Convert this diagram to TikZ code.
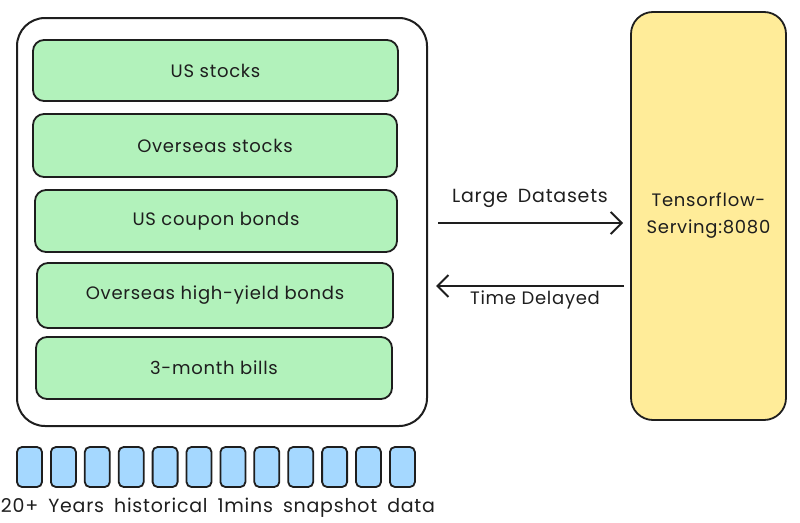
\documentclass[tikz,border=0pt]{standalone}
\usepackage{fontspec}
\setmainfont{Poppins}[LetterSpace=4]
\usetikzlibrary{arrows.meta}
\definecolor{strk}{HTML}{1E1E1E}
\definecolor{gfill}{HTML}{B2F2BB}
\definecolor{yfill}{HTML}{FFEC99}
\definecolor{bfill}{HTML}{A5D8FF}
\newcommand\widesp{\spaceskip=10pt\relax}
\tikzset{
  outerbox/.style={draw=strk, line width=2pt, rounded corners=28pt, fill=white},
  greenbox/.style={draw=strk, line width=1.8pt, rounded corners=11pt, fill=gfill, font=\fontsize{18}{20}\selectfont, text=strk},
  yellowbox/.style={draw=strk, line width=1.8pt, rounded corners=22pt, fill=yfill, font=\fontsize{18}{27}\selectfont, text=strk, align=center},
  bluebox/.style={draw=strk, line width=1.8pt, rounded corners=5pt, fill=bfill, minimum width=25pt, minimum height=40pt, inner sep=0pt},
  arr/.style={draw=strk, line width=2pt, -{Straight Barb[length=11pt,width=22pt,line width=2pt]}},
  lbl/.style={font=\fontsize{18}{20}\selectfont, text=strk},
  biglbl/.style={font=\fontsize{19}{20}\selectfont, text=strk}
}
\begin{document}
\begin{tikzpicture}[x=1pt,y=-1pt]
\useasboundingbox (0,0) rectangle (800,522);
\node[outerbox, minimum width=410pt, minimum height=408pt] (outer) at (222,222) {};
\node[greenbox, minimum width=365pt, minimum height=61pt] (g1) at (215.5,70.5) {US stocks};
\node[greenbox, minimum width=364pt, minimum height=63pt] (g2) at (215,145.5) {Overseas stocks};
\node[greenbox, minimum width=362pt, minimum height=62pt] (g3) at (216,221) {US coupon bonds};
\node[greenbox, minimum width=356pt, minimum height=65pt] (g4) at (215,295.5) {Overseas high-yield bonds};
\node[greenbox, minimum width=356pt, minimum height=62pt] (g5) at (214,368) {3-month bills};
\node[yellowbox, minimum width=155pt, minimum height=408pt] (srv) at (708.5,216) {Tensorflow-\\Serving:8080};
\draw[arr] ([xshift=10pt]outer.east |- 0,223) -- ([xshift=-7pt]srv.west |- 0,223);
\draw[arr] ([xshift=-6pt]srv.west |- 0,286) -- ([xshift=8pt]outer.east |- 0,286);
\node[biglbl] (l1) at (530,198) {\widesp Large Datasets};
\node[lbl] (l2) at (535,300) {Time Delayed};
\foreach \i in {0,...,11} {
  \node[bluebox] (b\i) at ({29.5+33.9*\i},467) {};
}
\node[biglbl] (cap) at (218,508) {\widesp 20+ Years historical 1mins snapshot data};
\end{tikzpicture}
\end{document}
